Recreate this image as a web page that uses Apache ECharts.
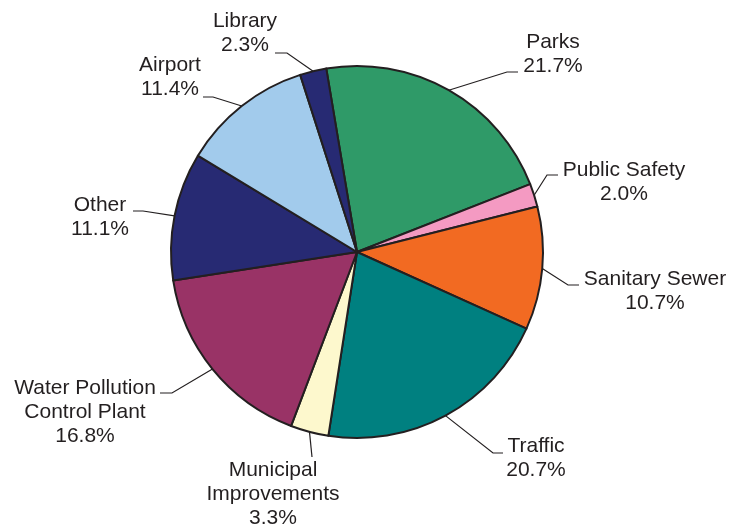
<!DOCTYPE html>
<html>
<head>
<meta charset="utf-8">
<script src="https://cdn.jsdelivr.net/npm/echarts@6/dist/echarts.min.js"></script>
<style>
html,body{margin:0;padding:0;background:#fff;}
#chart{width:729px;height:529px;}
</style>
</head>
<body>
<div id="chart"></div>
<script>
// Data (clockwise from the top)
const categories = ['Parks', 'Public Safety', 'Sanitary Sewer', 'Traffic', 'Municipal\nImprovements', 'Water Pollution\nControl Plant', 'Other', 'Airport', 'Library'];
const shares = [21.7, 2.0, 10.7, 20.7, 3.3, 16.8, 11.1, 11.4, 2.3];
const colors = ['#2f9a68', '#f49ac2', '#f26a22', '#008080', '#fdf8cd', '#993366', '#272a73', '#a2cbec', '#272a73'];

// Label placement (text center, line elbow, line end)
const labelLayoutSpec = [
  {x: 553, y: 54,  elbow: [507, 72],  end: [518, 72]},
  {x: 624, y: 182, elbow: [547, 175], end: [558, 175]},
  {x: 655, y: 291, elbow: [568, 285], end: [579, 285]},
  {x: 536, y: 458, elbow: [493, 453], end: [503, 453]},
  {x: 273, y: 494, elbow: null,       end: [312, 457]},
  {x: 85,  y: 412, elbow: [172, 393], end: [160, 393]},
  {x: 100, y: 217, elbow: [143, 211], end: [133, 211]},
  {x: 170, y: 77,  elbow: [213, 97],  end: [203, 97]},
  {x: 245, y: 33,  elbow: [287, 53],  end: [275, 53]}
];

const chart = echarts.init(document.getElementById('chart'), null, {renderer: 'canvas'});
chart.setOption({
  animation: false,
  backgroundColor: '#ffffff',
  series: [{
    type: 'pie',
    center: [357, 252],
    radius: 186,
    startAngle: 99.5,
    clockwise: true,
    avoidLabelOverlap: false,
    silent: true,
    itemStyle: {borderColor: '#231f20', borderWidth: 2},
    label: {
      show: true,
      position: 'outside',
      color: '#231f20',
      fontFamily: '"Liberation Sans", Arial, Helvetica, sans-serif',
      fontSize: 21,
      lineHeight: 24,
      align: 'center',
      formatter: function (p) { return p.name + '\n' + p.value.toFixed(1) + '%'; }
    },
    labelLine: {show: true, smooth: false, lineStyle: {color: '#231f20', width: 1.2}},
    labelLayout: function (params) {
      const s = labelLayoutSpec[params.dataIndex];
      const p0 = params.labelLinePoints[0];
      const pts = s.elbow ? [p0, s.elbow, s.end] : [p0, s.end];
      return {x: s.x, y: s.y, align: 'center', verticalAlign: 'middle', labelLinePoints: pts};
    },
    data: categories.map(function (c, i) {
      return {name: c, value: shares[i], itemStyle: {color: colors[i]}};
    })
  }]
});
</script>
</body>
</html>
